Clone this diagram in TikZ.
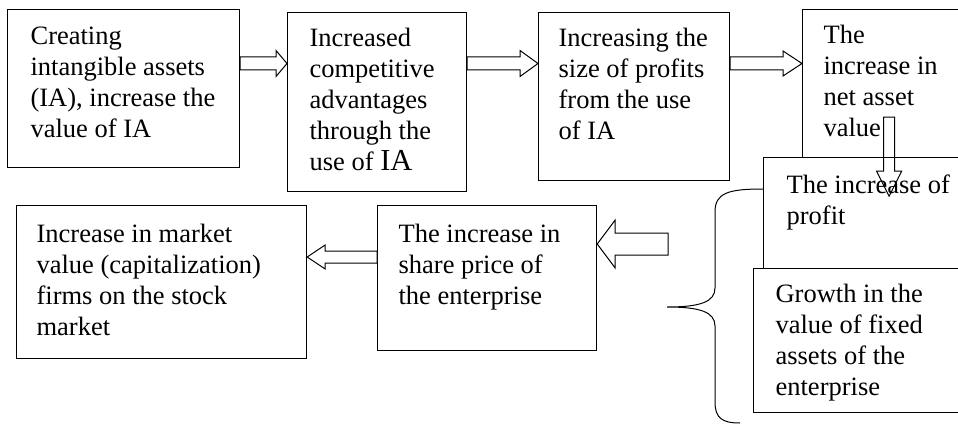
\documentclass[tikz,border=0pt]{standalone}
\usepackage{fontspec}
\setmainfont{Liberation Serif}
\usetikzlibrary{calc}

\begin{document}
\begin{tikzpicture}[x=1pt, y=-1pt,
                    stage/.style={rectangle, draw, line width=1.2pt, anchor=north west,
                                  align=flush left, inner ysep=0pt},
                    blockarrow/.style n args={3}{draw, fill=white, line width=1pt, line join=miter,
                      to path={($(\tikztostart)!#1!90:(\tikztotarget)$)
                               -- ($(\tikztotarget)!#3!(\tikztostart)!#1!-90:(\tikztostart)$)
                               -- ($(\tikztotarget)!#3!(\tikztostart)!#2!-90:(\tikztostart)$)
                               -- (\tikztotarget)
                               -- ($(\tikztotarget)!#3!(\tikztostart)!#2!90:(\tikztostart)$)
                               -- ($(\tikztotarget)!#3!(\tikztostart)!#1!90:(\tikztostart)$)
                               -- ($(\tikztostart)!#1!-90:(\tikztotarget)$) -- cycle}},
                    font=\fontsize{26.5}{31}\selectfont]
  \useasboundingbox (0, 0) rectangle (958, 425);
  \clip (0, 0) rectangle (958, 425);

  % Upper row of stages.
  \node at (7, 9) [stage, inner xsep=23pt, text width=186pt, text height=35pt,
                   text depth=123pt, name=Creation]
        {Creating\\intangible assets\\(IA), increase the\\value of IA};
  \node at (287, 12) [stage, inner xsep=22pt, text width=135pt, text height=34pt,
                      text depth=145pt, name=Advantage]
        {Increased\\competitive\\advantages\\through the\\use of {\fontsize{30.5}{31}\selectfont IA}};
  \node at (538, 12) [stage, inner xsep=20pt, text width=151pt, text height=34pt,
                      text depth=134pt, name=Profits]
        {Increasing the\\size of profits\\from the use\\of IA};
  \node at (802, 9) [stage, inner xsep=21pt, text width=131pt, text height=34pt,
                     text depth=114pt, name=NetAssets]
        {The\\increase in\\net asset\\value};

  % Row of the arrows between them.
  \coordinate (rowone) at (0, 63.5);
  \draw [blockarrow={6.5pt}{13pt}{11pt}] (Creation.east |- rowone)
        to (Advantage.west |- rowone);
  \draw [blockarrow={6.5pt}{13pt}{18pt}] (Advantage.east |- rowone)
        to (Profits.west |- rowone);
  \draw [blockarrow={6.5pt}{12.5pt}{19pt}] (Profits.east |- rowone)
        to (NetAssets.west |- rowone);
  \draw [blockarrow={5.5pt}{12.5pt}{25pt}] ([yshift=41pt]NetAssets.south)
        to ([yshift=-38pt]NetAssets.south);

  % Results on the right.
  \node at (763, 157) [stage, inner xsep=23pt, text width=166pt, text height=36pt,
                       text depth=75pt, name=Profit]
        {The increase of\\profit};
  \node at (753, 268) [stage, inner xsep=22pt, text width=178pt, text height=34pt,
                       text depth=110pt, name=FixedAssets]
        {Growth in the\\value of fixed\\assets of the\\enterprise};

  % Lower row.
  \node at (16, 205) [stage, inner xsep=20pt, text width=250pt, text height=37pt,
                      text depth=116pt, name=Market]
        {Increase in market\\value (capitalization)\\firms on the stock\\market};
  \node at (377, 205) [stage, inner xsep=21pt, text width=177pt, text height=37pt,
                       text depth=108pt, name=SharePrice]
        {The increase in\\share price of\\the enterprise};

  \coordinate (rowtwo) at (0, 257);
  \coordinate (bracetail) at (668, 244);
  \draw [blockarrow={11pt}{24pt}{18pt}] (bracetail)
        to (SharePrice.east |- bracetail);
  \draw [blockarrow={6pt}{12pt}{18pt}] (SharePrice.west |- rowtwo)
        to (Market.east |- rowtwo);

  % Brace.
  \draw [line width=1pt] (Profit.west |- 0, 189)
        .. controls (728, 189) and (715, 193) .. (715, 212)
        -- (715, 288)
        .. controls (715, 302) and (700, 307) .. (667, 307)
        .. controls (700, 307) and (715, 312) .. (715, 326)
        -- (715, 402)
        .. controls (715, 418) and (722, 423) .. (740, 423);
\end{tikzpicture}
\end{document}
